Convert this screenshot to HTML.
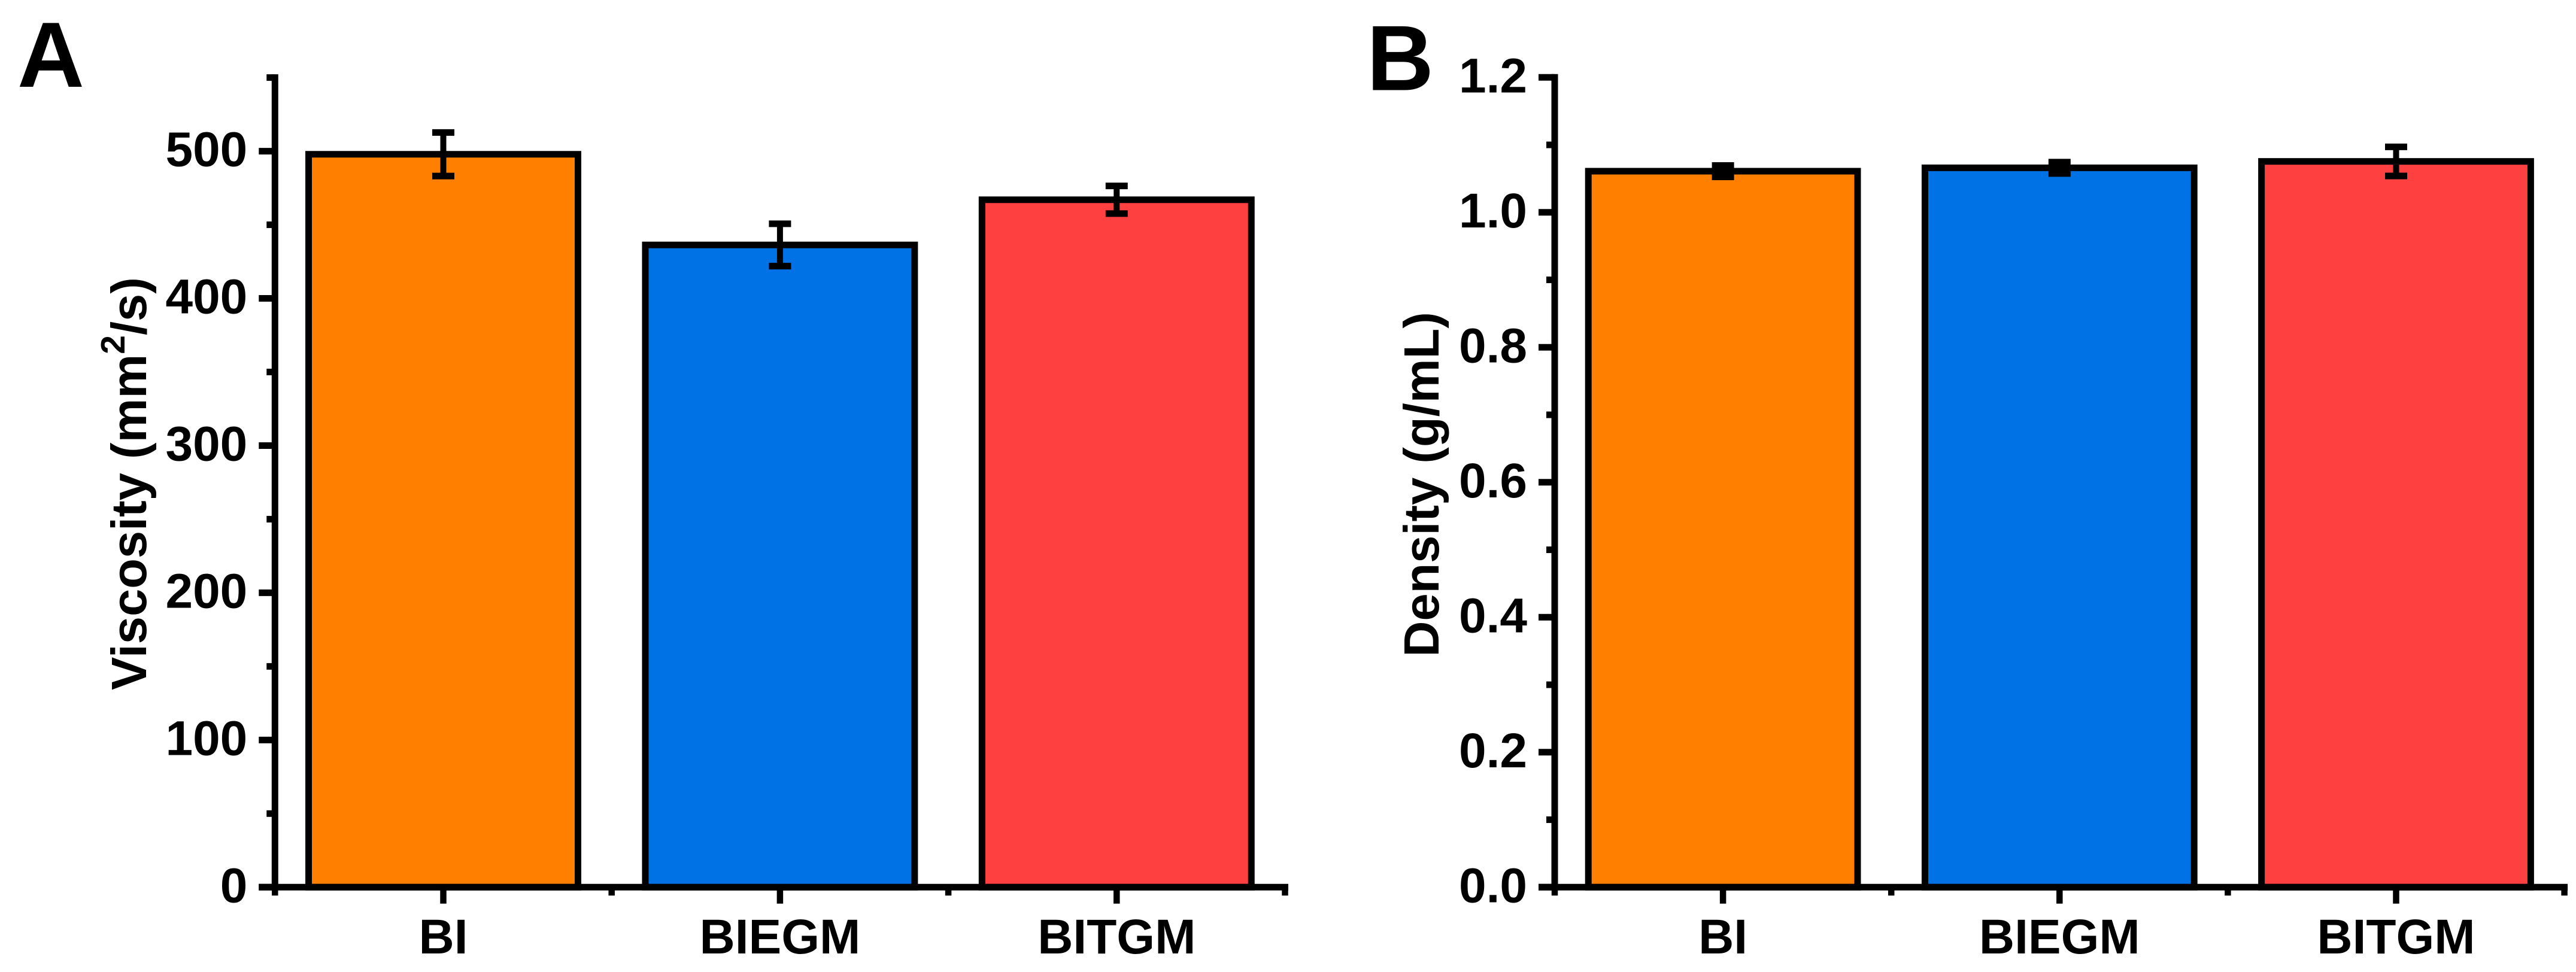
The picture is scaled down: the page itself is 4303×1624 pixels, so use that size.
<!DOCTYPE html>
<html lang="en">
<head>
<meta charset="utf-8">
<title>Viscosity and density bar charts</title>
<style>
  html, body { margin: 0; padding: 0; background: #fff; }
  svg { display: block; }
  text { font-family: "Liberation Sans", Arial, sans-serif; font-weight: bold; fill: #000; }
</style>
</head>
<body>
<svg id="figure" xmlns="http://www.w3.org/2000/svg" width="4303" height="1624" viewBox="0 0 4303 1624">
  <rect x="0" y="0" width="4303" height="1624" fill="#ffffff"/>
  <g id="panel-a"></g>
  <g id="panel-b"></g>
  <text x="29" y="145" font-size="155">A</text>
  <text x="2283" y="150.5" font-size="155">B</text>
  <text transform="translate(244 1153) rotate(-90)" font-size="83">Viscosity (mm<tspan font-size="57" dy="-36">2</tspan><tspan dy="36">/s)</tspan></text>
  <text transform="translate(2403 1097.5) rotate(-90)" font-size="83">Density (g/mL)</text>
</svg>
<script>
const categories = ['BI', 'BIEGM', 'BITGM'];

const viscosityValues = [497.9, 436.3, 467];
const viscosityErrors = [14.8, 14.4, 9.4];
const viscosityTicks = [0, 100, 200, 300, 400, 500];
const viscosityTickLabels = ['0', '100', '200', '300', '400', '500'];

const densityValues = [1.061, 1.066, 1.0755];
const densityErrors = [0.0084, 0.0084, 0.0216];
const densityTicks = [0, 0.2, 0.4, 0.6, 0.8, 1.0, 1.2];
const densityTickLabels = ['0.0', '0.2', '0.4', '0.6', '0.8', '1.0', '1.2'];

const NS = 'http://www.w3.org/2000/svg';
const barFills = ['#FF8000', '#0072E6', '#FF4040'];
const AXIS_W = 11;

function makeLine(parent, x1, y1, x2, y2, width) {
  const l = document.createElementNS(NS, 'line');
  l.setAttribute('x1', x1);
  l.setAttribute('y1', y1);
  l.setAttribute('x2', x2);
  l.setAttribute('y2', y2);
  l.setAttribute('stroke', '#000');
  l.setAttribute('stroke-width', width);
  parent.appendChild(l);
  return l;
}

function drawPanel(cfg) {
  const g = document.getElementById(cfg.id);
  const yScale = function (v) { return cfg.y0 - (v - cfg.yMin) / (cfg.yMax - cfg.yMin) * (cfg.y0 - cfg.yTop); };
  const xScale = function (i) { return cfg.axisX + cfg.catStep * (i + 0.5); };
  const step = cfg.ticks[1] - cfg.ticks[0];

  cfg.values.forEach(function (v, i) {
    const cx = xScale(i);
    const w = cfg.catStep * 0.8;
    const r = document.createElementNS(NS, 'rect');
    
    
    r.setAttribute('x', cx - w / 2);
    r.setAttribute('y', yScale(v));
    r.setAttribute('width', w);
    r.setAttribute('height', cfg.y0 - yScale(v));
    r.setAttribute('fill', barFills[i]);
    r.setAttribute('stroke', '#000');
    r.setAttribute('stroke-width', AXIS_W);
    g.appendChild(r);
  });

  cfg.values.forEach(function (v, i) {
    const cx = xScale(i);
    const top = yScale(v + cfg.errors[i]);
    const bot = yScale(v - cfg.errors[i]);
    const eg = document.createElementNS(NS, 'g');
    
    
    makeLine(eg, cx, top, cx, bot, 10);
    makeLine(eg, cx - 18.5, top, cx + 18.5, top, 11);
    makeLine(eg, cx - 18.5, bot, cx + 18.5, bot, 11);
    g.appendChild(eg);
  });

  const yAxis = makeLine(g, cfg.axisX, cfg.yTop - 5.5, cfg.axisX, cfg.y0 + 5.5, AXIS_W);
  
  

  const xEnd = xScale(categories.length - 1) + cfg.catStep / 2 + AXIS_W / 2;
  const xAxis = makeLine(g, cfg.axisX - 27, cfg.y0, xEnd, cfg.y0, AXIS_W);
  
  

  cfg.ticks.forEach(function (t, i) {
    const y = yScale(t);
    const tick = makeLine(g, cfg.axisX - 27, y, cfg.axisX, y, AXIS_W);
    
    
    const label = document.createElementNS(NS, 'text');
    
    
    label.setAttribute('x', cfg.axisX - 46);
    label.setAttribute('y', y + 25);
    label.setAttribute('font-size', 82);
    label.setAttribute('text-anchor', 'end');
    label.textContent = cfg.tickLabels[i];
    g.appendChild(label);
    const mv = t + step / 2;
    if (mv <= cfg.yMax + 1e-9) {
      const minor = makeLine(g, cfg.axisX - 14, yScale(mv), cfg.axisX, yScale(mv), AXIS_W);
      
      
    }
  });

  categories.forEach(function (c, i) {
    const cx = xScale(i);
    const tick = makeLine(g, cx, cfg.y0, cx, cfg.y0 + 27.5, 10.5);
    
    
    const label = document.createElementNS(NS, 'text');
    
    
    label.setAttribute('x', cx);
    label.setAttribute('y', 1593);
    label.setAttribute('font-size', 82);
    label.setAttribute('text-anchor', 'middle');
    label.textContent = c;
    g.appendChild(label);
  });

  for (let i = 0; i <= categories.length; i++) {
    const mx = cfg.axisX + cfg.catStep * i;
    const minor = makeLine(g, mx, cfg.y0, mx, cfg.y0 + 14, 10.5);
    
    
  }
}

drawPanel({
  id: 'panel-a', axisX: 459.3, catStep: 562.4, y0: 1482.3, yTop: 129.6,
  yMin: 0, yMax: 550,
  values: viscosityValues, errors: viscosityErrors,
  ticks: viscosityTicks, tickLabels: viscosityTickLabels
});
drawPanel({
  id: 'panel-b', axisX: 2597, catStep: 562.2, y0: 1482.3, yTop: 129.3,
  yMin: 0, yMax: 1.2,
  values: densityValues, errors: densityErrors,
  ticks: densityTicks, tickLabels: densityTickLabels
});
</script>
</body>
</html>
